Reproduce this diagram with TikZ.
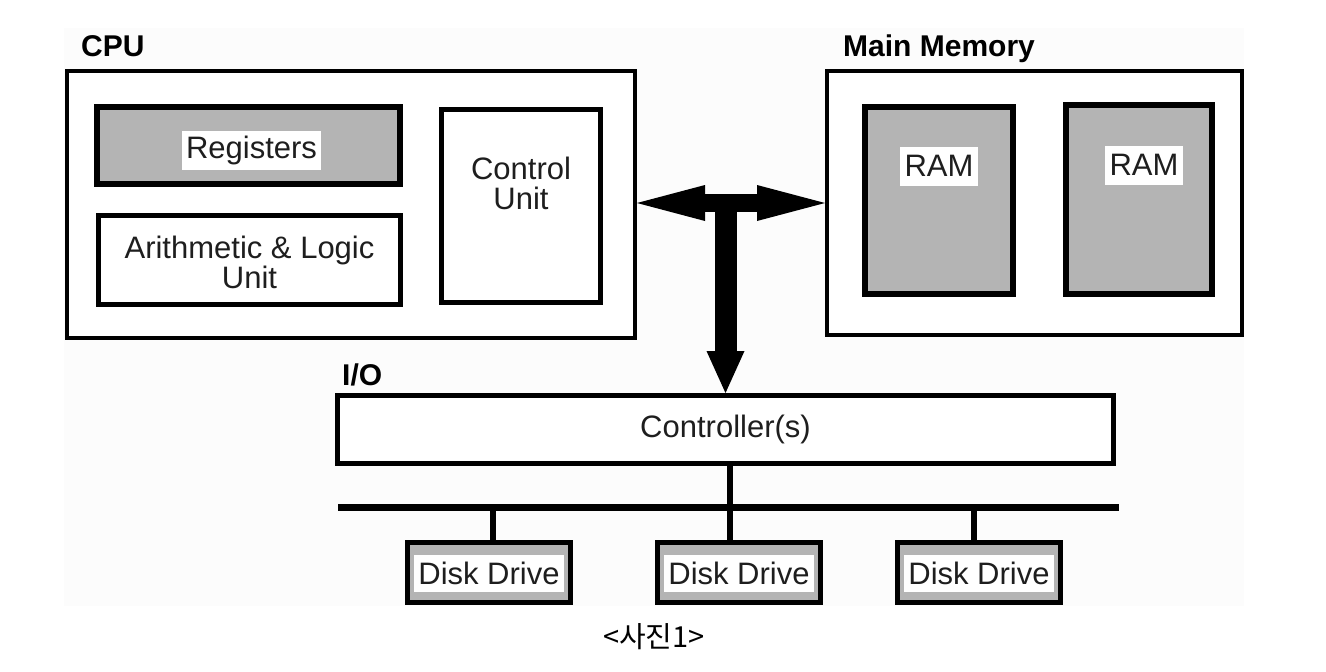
\documentclass[tikz,border=0pt]{standalone}
\usepackage{fontspec}
\setmainfont{Liberation Sans}
\newfontfamily\kor{Noto Sans CJK KR}
\usetikzlibrary{arrows.meta}
\definecolor{boxgray}{RGB}{180,180,180}
\definecolor{pagegray}{RGB}{252,252,252}
\definecolor{ink}{RGB}{30,30,30}

\begin{document}
\begin{tikzpicture}[x=1pt, y=-1pt,
    every node/.style={font=\fontsize{31}{30}\selectfont},
    box/.style={draw, rectangle, fill=white, inner sep=0pt, text=ink},
    graybox/.style={box, fill=boxgray},
    tag/.style={fill=white, inner xsep=4.5pt, inner ysep=0pt, minimum height=39pt, text=ink},
    txt/.style={align=center, text=ink, inner sep=0pt},
    title/.style={font=\fontsize{30}{30}\selectfont\bfseries, anchor=base west, inner sep=0pt}]

    % 배경
    \fill[white] (0,0) rectangle (1326,672);
    \fill[pagegray] (64,28) rectangle (1244,606);
    \useasboundingbox (0,0) rectangle (1326,672);

    % CPU
    \node[title] (cpulbl) at (81,56) {CPU};
    \node[box, line width=4pt, minimum width=568pt, minimum height=267pt] (cpu) at (351,204.5) {};
    \node[graybox, line width=6pt, minimum width=303pt, minimum height=77pt] (reg) at (248.5,145.5) {};
    \node[tag] at ([xshift=3pt, yshift=-5pt]reg) {Registers};
    \node[box, line width=5.5pt, minimum width=302pt, minimum height=89pt] (alu) at (249.5,260) {};
    \node[txt] at ([yshift=-2pt]alu) {Arithmetic \& Logic\\Unit};
    \node[box, line width=5pt, minimum width=159pt, minimum height=193pt] (cu) at (521,206) {};
    \node[txt] at ([yshift=23pt]cu) {Control\\Unit};

    % 주기억장치
    \node[title] (memlbl) at (843,56) {Main Memory};
    \node[box, line width=4pt, minimum width=415pt, minimum height=264pt] (mem) at (1034.5,203) {};
    \node[graybox, line width=5.5pt, minimum width=148pt, minimum height=187pt] (ram1) at (939,200.5) {};
    \node[graybox, line width=5.5pt, minimum width=146pt, minimum height=189pt] (ram2) at (1139,199.5) {};
    \node[tag] at ([yshift=34.5pt]ram1) {RAM};
    \node[tag] at ([xshift=5pt, yshift=34.5pt]ram2) {RAM};

    % 입출력
    \node[title] (iolbl) at (342,385) {I/O};
    \node[box, line width=5pt, minimum width=776pt, minimum height=68pt] (ctrl) at (725.5,429.5) {Controller(s)};

    % 버스
    \coordinate (busL) at (338,507);
    \coordinate (busR) at (1119,507);
    \coordinate (tap1) at (493,507);
    \coordinate (tap2) at (730,507);
    \coordinate (tap3) at (974,507);
    \draw[line width=7pt] (busL) -- (busR);
    \draw[line width=6pt] (ctrl.south -| tap2) -- (tap2);

    % 디스크
    \foreach \i/\x in {1/489, 2/739, 3/979} {
      \node[graybox, line width=5pt, minimum width=163pt, minimum height=60pt] (disk\i) at (\x,572.5) {};
      \node[tag, minimum width=150pt, minimum height=37pt, inner xsep=0pt] at ([yshift=-1pt]disk\i) {Disk Drive};
      \draw[line width=6pt] (tap\i) -- (tap\i |- disk\i.north);
    }

    % 화살표
    \draw[line width=18pt, {Triangle[length=68pt, width=36pt, line width=0pt]}-{Triangle[length=68pt, width=36pt, line width=0pt]}] (cpu.east |- mem.west) -- (mem.west);
    \draw[line width=22pt, -{Triangle[length=42pt, width=38pt, line width=0pt]}] (ctrl.north |- mem.west) -- (ctrl.north);

    % 캡션
    \node[font=\kor\fontsize{29}{29}\selectfont] (cap) at (654,637) {<사진1>};
\end{tikzpicture}
\end{document}
